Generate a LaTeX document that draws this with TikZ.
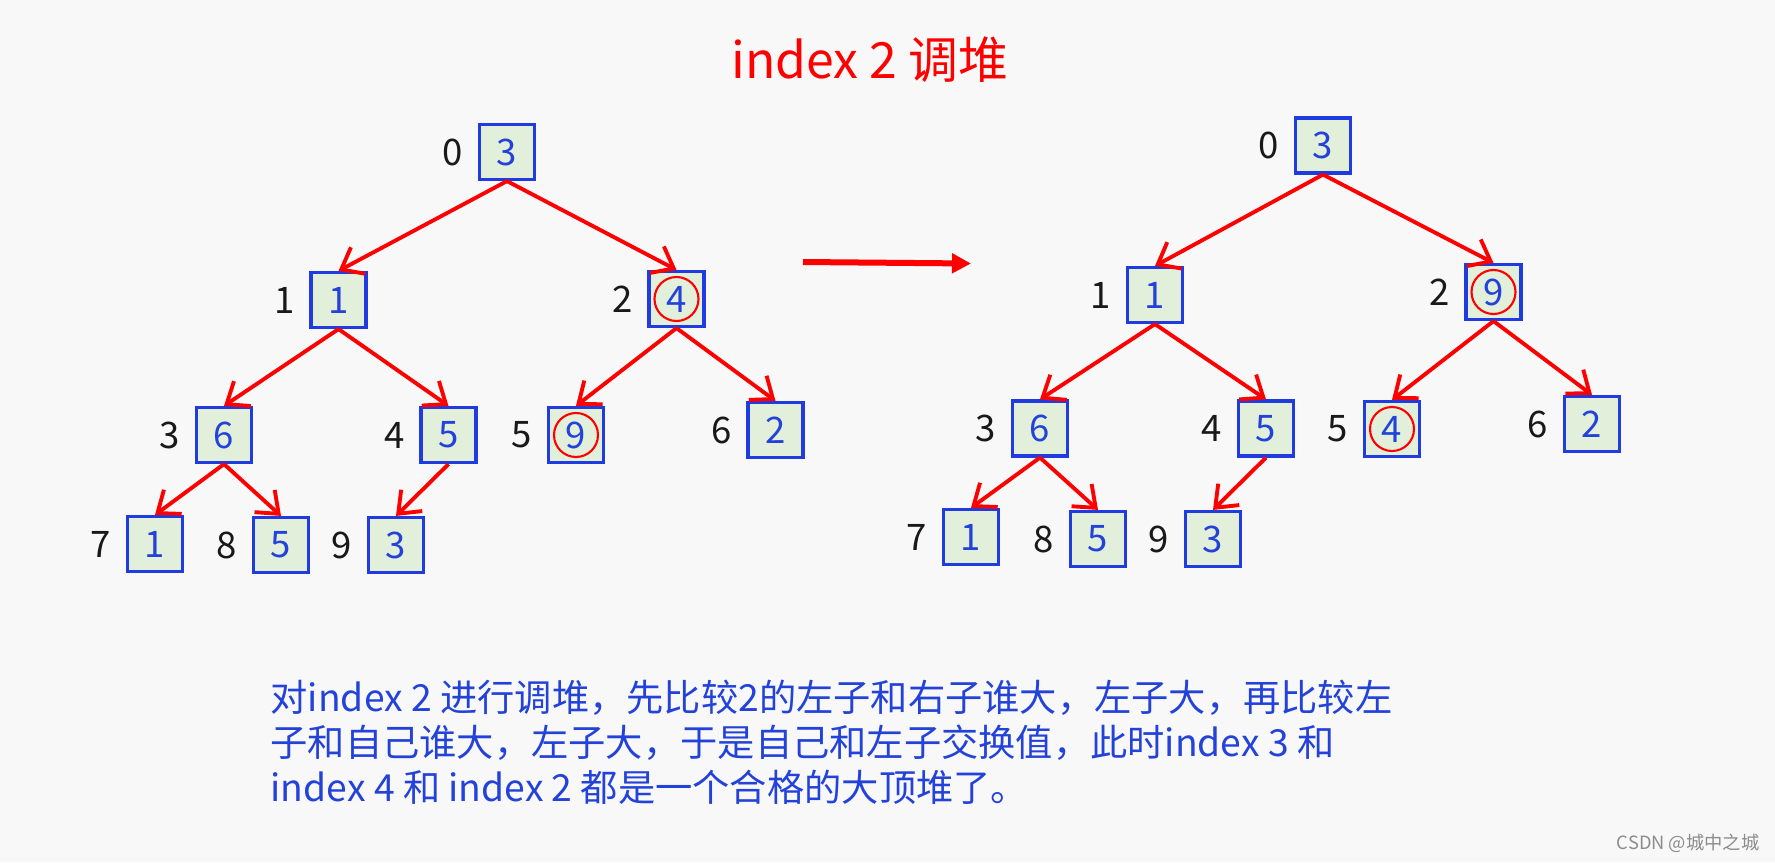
\documentclass[tikz,border=0pt]{standalone}
\usepackage{fontspec}
\setmainfont{Noto Sans CJK SC}
\usetikzlibrary{arrows.meta,positioning}
\definecolor{pagegray}{RGB}{248,248,248}
\definecolor{cellgreen}{RGB}{226,239,218}
\definecolor{cellblue}{RGB}{32,60,225}
\definecolor{textblue}{RGB}{35,66,218}
\definecolor{heapred}{RGB}{255,0,0}
\tikzset{
  cell/.style={draw=cellblue, line width=.9pt, fill=cellgreen, minimum size=5.5mm, inner sep=0pt, text=textblue, font=\fontsize{10.4}{12}\selectfont},
  idx/.style={inner sep=0pt, text=black!90, font=\fontsize{10.4}{12}\selectfont},
  edge/.style={-{Straight Barb[length=1.9mm,width=3mm]}, line width=1.1pt, draw=heapred},
  ring/.style={draw=heapred, line width=.6pt},
  swaparrow/.style={-{Triangle[length=1.9mm,width=1.9mm]}, line width=.6mm, draw=heapred},
  note/.style={text=textblue, align=left, inner sep=0pt, font=\fontsize{10.6}{12.9}\selectfont}
}

\begin{document}
\begin{tikzpicture}[x=1cm,y=1cm]
  \fill[pagegray] (0,0) rectangle (17.75,8.62);
  \useasboundingbox (0,0) rectangle (17.75,8.62);

  % Title.
  \node[text=heapred, font=\fontsize{14.2}{17}\selectfont] (title) at (8.70,8.02) {index 2 调堆};

  % Left heap, before sifting down index 2.
  \node[cell] (l0) at (5.07,7.10) {3};
  \node[idx, left=1.4mm of l0] (l0i) {0};
  \node[cell] (l1) at (3.385,5.62) {1};
  \node[idx, left=1.4mm of l1] (l1i) {1};
  \node[cell] (l2) at (6.765,5.63) {4};
  \node[idx, left=1.4mm of l2] (l2i) {2};
  \node[cell] (l3) at (2.24,4.27) {6};
  \node[idx, left=1.4mm of l3] (l3i) {3};
  \node[cell] (l4) at (4.485,4.27) {5};
  \node[idx, left=1.4mm of l4] (l4i) {4};
  \node[cell] (l5) at (5.76,4.27) {9};
  \node[idx, left=1.4mm of l5] (l5i) {5};
  \node[cell] (l6) at (7.755,4.32) {2};
  \node[idx, left=1.4mm of l6] (l6i) {6};
  \node[cell] (l7) at (1.55,3.18) {1};
  \node[idx, left=1.4mm of l7] (l7i) {7};
  \node[cell] (l8) at (2.81,3.17) {5};
  \node[idx, left=1.4mm of l8] (l8i) {8};
  \node[cell] (l9) at (3.96,3.17) {3};
  \node[idx, left=1.4mm of l9] (l9i) {9};
  \draw[edge] (l0.south) -- (l1.north);
  \draw[edge] (l0.south) -- (l2.north);
  \draw[edge] (l1.south) -- (l3.north);
  \draw[edge] (l1.south) -- (l4.north);
  \draw[edge] (l2.south) -- (l5.north);
  \draw[edge] (l2.south) -- (l6.north);
  \draw[edge] (l3.south) -- (l7.north);
  \draw[edge] (l3.south) -- (l8.north);
  \draw[edge] (l4.south) -- (l9.north);
  \draw[ring] (l2) circle[radius=2.2mm];
  \draw[ring] (l5) circle[radius=2.2mm];

  % Swap arrow.
  \coordinate (swapfrom) at (8.03,6.00);
  \coordinate (swapto) at (9.71,5.985);
  \draw[swaparrow] (swapfrom) -- (swapto);

  % Right heap, after the swap.
  \node[cell] (r0) at (13.23,7.165) {3};
  \node[idx, left=1.4mm of r0] (r0i) {0};
  \node[cell] (r1) at (11.55,5.67) {1};
  \node[idx, left=1.4mm of r1] (r1i) {1};
  \node[cell] (r2) at (14.935,5.70) {9};
  \node[idx, left=1.4mm of r2] (r2i) {2};
  \node[cell] (r3) at (10.40,4.335) {6};
  \node[idx, left=1.4mm of r3] (r3i) {3};
  \node[cell] (r4) at (12.66,4.335) {5};
  \node[idx, left=1.4mm of r4] (r4i) {4};
  \node[cell] (r5) at (13.92,4.33) {4};
  \node[idx, left=1.4mm of r5] (r5i) {5};
  \node[cell] (r6) at (15.92,4.38) {2};
  \node[idx, left=1.4mm of r6] (r6i) {6};
  \node[cell] (r7) at (9.71,3.25) {1};
  \node[idx, left=1.4mm of r7] (r7i) {7};
  \node[cell] (r8) at (10.98,3.23) {5};
  \node[idx, left=1.4mm of r8] (r8i) {8};
  \node[cell] (r9) at (12.13,3.23) {3};
  \node[idx, left=1.4mm of r9] (r9i) {9};
  \draw[edge] (r0.south) -- (r1.north);
  \draw[edge] (r0.south) -- (r2.north);
  \draw[edge] (r1.south) -- (r3.north);
  \draw[edge] (r1.south) -- (r4.north);
  \draw[edge] (r2.south) -- (r5.north);
  \draw[edge] (r2.south) -- (r6.north);
  \draw[edge] (r3.south) -- (r7.north);
  \draw[edge] (r3.south) -- (r8.north);
  \draw[edge] (r4.south) -- (r9.north);
  \draw[ring] (r2) circle[radius=2.2mm];
  \draw[ring] (r5) circle[radius=2.2mm];

  % Explanation and watermark.
  \node[note, anchor=base west] (explain) at (2.70,0.603) {对index 2 进行调堆，先比较2的左子和右子谁大，左子大，再比较左\\子和自己谁大，左子大，于是自己和左子交换值，此时index 3 和\\index 4 和 index 2 都是一个合格的大顶堆了。};
  \node[anchor=east, inner sep=0pt, text=black!45, font=\fontsize{5.2}{6}\selectfont] (wm) at (17.60,0.19) {CSDN @城中之城};
\end{tikzpicture}
\end{document}
